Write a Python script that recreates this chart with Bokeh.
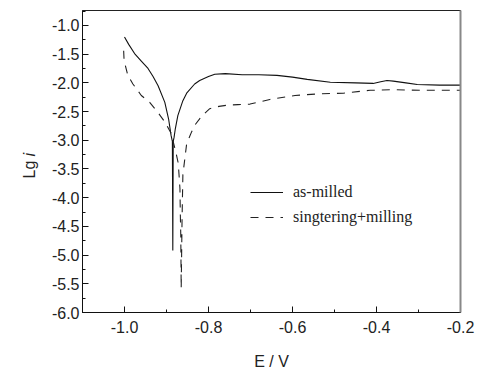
import math
from bokeh.plotting import figure
from bokeh.layouts import row
from bokeh.models import (FixedTicker, PrintfTickFormatter, LinearAxis,
                          Legend, LegendItem, Range1d)
from bokeh.core.properties import value
from bokeh.embed import file_html
from bokeh.resources import INLINE

# as-milled (solid)
e_milled = [-1.000, -0.990, -0.976, -0.960, -0.944, -0.932, -0.920, -0.904, -0.895,
            -0.889, -0.886, -0.885, -0.884, -0.882, -0.879, -0.873, -0.861, -0.852,
            -0.833, -0.821, -0.800, -0.785, -0.760, -0.720, -0.680, -0.637, -0.600,
            -0.565, -0.510, -0.450, -0.408, -0.390, -0.375, -0.360, -0.330, -0.303,
            -0.250, -0.200]
lg_milled = [-1.20, -1.33, -1.49, -1.62, -1.75, -1.89, -2.05, -2.34, -2.63,
             -2.92, -3.02, -4.92, -3.02, -2.95, -2.80, -2.57, -2.31, -2.18,
             -2.02, -1.96, -1.89, -1.85, -1.84, -1.86, -1.86, -1.87, -1.90,
             -1.94, -1.99, -2.00, -2.01, -1.98, -1.96, -1.97, -2.00, -2.03,
             -2.04, -2.04]

# singtering+milling (dashed)
e_sinter = [-1.002, -1.001, -0.992, -0.980, -0.960, -0.940, -0.920, -0.904, -0.889,
            -0.878, -0.872, -0.868, -0.867, -0.866, -0.865, -0.864, -0.863, -0.861,
            -0.856, -0.852, -0.840, -0.833, -0.815, -0.797, -0.775, -0.756, -0.730,
            -0.701, -0.654, -0.594, -0.534, -0.479, -0.415, -0.360, -0.296, -0.200]
lg_sinter = [-1.44, -1.61, -1.87, -2.02, -2.22, -2.34, -2.52, -2.68, -2.88,
             -3.20, -3.40, -3.84, -4.31, -4.66, -5.58, -5.00, -4.40, -3.60,
             -3.30, -3.06, -2.85, -2.74, -2.57, -2.45, -2.41, -2.39, -2.38,
             -2.37, -2.29, -2.22, -2.19, -2.18, -2.13, -2.12, -2.13, -2.13]

x_major = [-1.0, -0.8, -0.6, -0.4, -0.2]
x_minor = [-1.1, -0.9, -0.7, -0.5, -0.3]
y_major = [-6.0, -5.5, -5.0, -4.5, -4.0, -3.5, -3.0, -2.5, -2.0, -1.5, -1.0]
y_minor = [-5.75, -5.25, -4.75, -4.25, -3.75, -3.25, -2.75, -2.25, -1.75, -1.25, -0.75]

legend_labels = ["as-milled", "singtering+milling"]
y_title_parts = ["Lg", "i"]

p = figure(frame_width=378, frame_height=302, output_backend="svg", toolbar_location=None,
           x_range=Range1d(-1.1, -0.2), y_range=Range1d(-6.0, -0.74),
           min_border_left=38, min_border_right=22, min_border_top=10,
           min_border_bottom=58)
p.grid.visible = False
p.outline_line_color = "#222222"
p.background_fill_color = "white"
p.border_fill_color = "white"

r1 = p.line(e_milled, lg_milled, line_color="#111111", line_width=1.1)
r2 = p.line(e_sinter, lg_sinter, line_color="#222222", line_width=1.1, line_dash="8 7")

tick_font = "Liberation Sans"
for ax in (p.xaxis[0], p.yaxis[0]):
    ax.major_tick_in = 6
    ax.major_tick_out = 0
    ax.minor_tick_in = 3
    ax.minor_tick_out = 0
    ax.axis_line_color = "#111111"
    ax.major_tick_line_color = "#111111"
    ax.minor_tick_line_color = "#111111"
    ax.major_label_text_font = tick_font
    ax.major_label_text_font_size = "16px"
    ax.major_label_text_color = "#222222"
    ax.formatter = PrintfTickFormatter(format="%.1f")

p.xaxis.ticker = FixedTicker(ticks=x_major, minor_ticks=x_minor)
p.yaxis.ticker = FixedTicker(ticks=y_major, minor_ticks=y_minor)
p.xaxis.major_label_standoff = 8
p.yaxis.major_label_standoff = 3
p.xaxis.axis_label = "E / V"
p.xaxis.axis_label_text_font = tick_font
p.xaxis.axis_label_text_font_style = "normal"
p.xaxis.axis_label_text_font_size = "16px"
p.xaxis.axis_label_text_color = "#222222"
p.xaxis.axis_label_standoff = 17

right = LinearAxis(ticker=FixedTicker(ticks=[], minor_ticks=[]),
                   major_tick_line_color=None, minor_tick_line_color=None,
                   axis_line_color="#888888", axis_line_width=2)
p.add_layout(right, "right")

legend = Legend(items=[LegendItem(label=legend_labels[0], renderers=[r1]),
                       LegendItem(label=legend_labels[1], renderers=[r2])],
                location=(168, 85), padding=0, margin=0, spacing=5,
                glyph_width=33, glyph_height=20, label_height=20, label_standoff=10,
                label_text_font="Liberation Serif", label_text_font_size="16px",
                label_text_color="#222222", border_line_alpha=0,
                background_fill_alpha=0)
p.add_layout(legend)

# narrow strip holding the y-axis title "Lg i" (italic i)
t = figure(frame_width=44, frame_height=370, output_backend="svg", toolbar_location=None,
           x_range=Range1d(0, 44), y_range=Range1d(370, 0),
           x_axis_location=None, y_axis_location=None, min_border=0)
t.grid.visible = False
t.outline_line_color = None
t.border_fill_color = "white"
t.text(x=[29], y=[168], text=[y_title_parts[0]], angle=math.pi / 2,
       text_align="left", text_baseline="middle", text_font=value("Liberation Sans"),
       text_font_size="16px", text_color="#222222")
t.text(x=[29], y=[146], text=[y_title_parts[1]], angle=math.pi / 2,
       text_align="left", text_baseline="middle", text_font=value("Liberation Sans"),
       text_font_style="italic", text_font_size="16px", text_color="#222222")

layout = row(t, p, spacing=0)
open("out.html", "w").write(file_html(layout, INLINE))
